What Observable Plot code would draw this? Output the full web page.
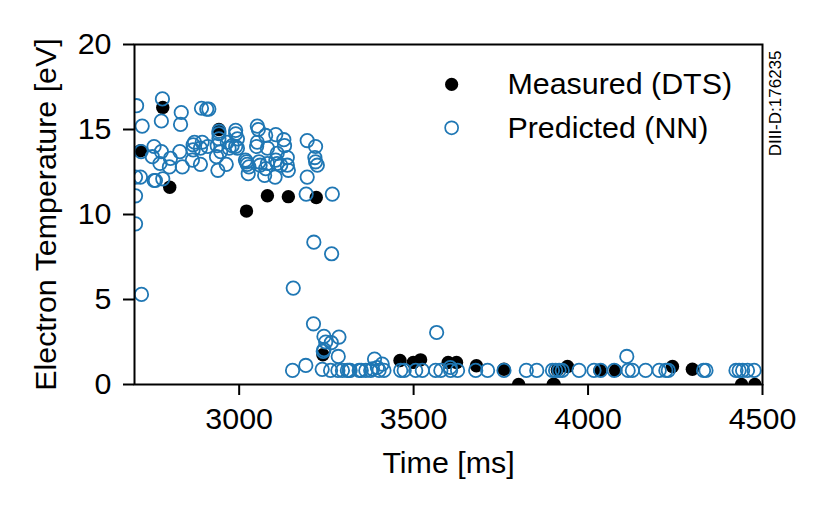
<!DOCTYPE html>
<html>
<head>
<meta charset="utf-8">
<script src="https://cdn.jsdelivr.net/npm/d3@7"></script>
<script src="https://cdn.jsdelivr.net/npm/@observablehq/plot@0.6"></script>
<style>
  html, body { margin: 0; padding: 0; background: #fff; }
  svg { display: block; }
</style>
</head>
<body>
<div id="chart"></div>
<script>
// Measured (DTS)
const measuredTime = [2781, 2942, 2717, 2801, 3021, 3081, 3141, 3221, 3240, 3461, 3499, 3520, 3599, 3623, 3680, 3759, 3801, 3900, 3912, 3941, 3903, 4034, 4079, 4242, 4299, 4440, 4478];
const measuredTemp = [16.3, 15.0, 13.75, 11.6, 10.2, 11.1, 11.05, 11.0, 1.75, 1.41, 1.3, 1.45, 1.3, 1.3, 1.1, 0.9, 0, 0, 0.85, 1.06, 0, 0.83, 0.83, 1.06, 0.9, 0, 0];

// Predicted (NN)
const predictedTime = [
  2706, 2722, 2780, 2777, 2834, 2832, 2892, 2907, 2913, 2719, 2756, 2751, 2777, 2773, 2803, 2800, 2830, 2837, 2717, 2703, 2756, 2760, 2781, 2703, 2703,
  2872, 2868, 2868, 2894, 2889, 2866, 2889, 2910, 2942, 2942, 2942, 2937, 2947, 2935, 2963, 2939, 2990, 2990, 2995, 2966, 2980, 2990, 2995, 2971,
  3018, 3021, 3023, 3028, 3026, 3052, 3055, 3076, 3105, 3128, 3130, 3052, 3050, 3081, 3109, 3138, 3057, 3060, 3081, 3076, 3073, 3103, 3105, 3109, 3119, 3138, 3141,
  3195, 3219, 3217, 3219, 3224, 3195, 3192, 3267,
  2720, 3214, 3265, 3155, 3213, 3243, 3286, 3248, 3264, 3243, 3241, 3284, 3191, 3153, 3238, 3262, 3283, 3310, 3318, 3344,
  3296, 3315, 3350, 3363, 3377, 3401, 3415, 3463, 3473, 3506, 3525, 3563, 3578, 3606, 3626, 3678, 3712, 3759, 3823, 3853, 3898, 3917,
  3566, 3388, 3410, 3605, 3396, 3382,
  3907, 3926, 3974, 4017, 4036, 4075, 4115, 4127, 4165, 4204, 4223, 4230, 4331, 4338, 4424, 4433, 4443, 4457, 4476, 4111
];
const predictedTemp = [
  16.4, 15.2, 16.8, 15.5, 16.0, 15.3, 16.25, 16.2, 16.2, 13.7, 14.0, 13.4, 13.7, 13.0, 13.3, 12.8, 13.7, 12.8, 12.2, 12.2, 12.0, 12.0, 12.1, 11.1, 9.45,
  14.25, 14.1, 13.8, 14.25, 13.9, 13.2, 12.95, 14.0, 14.75, 14.9, 14.45, 14.05, 13.7, 13.4, 12.95, 12.6, 14.95, 14.75, 14.45, 14.25, 14.05, 14.0, 13.9, 13.9,
  13.2, 13.1, 12.95, 12.8, 12.4, 15.2, 15.0, 14.65, 14.7, 14.4, 14.05, 14.25, 14.0, 13.9, 13.6, 13.35, 13.1, 12.9, 13.0, 12.7, 12.3, 12.2, 13.2, 13.0, 12.9, 12.9, 12.6,
  14.35, 14.0, 13.35, 13.1, 12.9, 12.2, 11.2, 11.2,
  5.3, 8.37, 7.69, 5.67, 3.57, 2.83, 2.79, 2.5, 2.46, 2.05, 1.95, 1.65, 1.12, 0.83, 0.89, 0.83, 0.83, 0.83, 0.83, 0.83,
  0.83, 0.83, 0.83, 0.83, 0.83, 0.83, 0.83, 0.83, 0.83, 0.83, 0.83, 0.83, 0.83, 0.83, 0.83, 0.83, 0.83, 0.83, 0.83, 0.83, 0.83, 0.83,
  3.06, 1.5, 1.2, 1.0, 1.0, 0.92,
  0.83, 0.83, 0.83, 0.83, 0.83, 0.83, 0.83, 0.83, 0.83, 0.83, 0.83, 0.83, 0.83, 0.83, 0.83, 0.83, 0.83, 0.83, 0.83, 1.65
];

const xTicks = [3000, 3500, 4000, 4500];
const yTicks = [0, 5, 10, 15, 20];

// legend rows, placed in data units
const legendLabels = ["Measured (DTS)", "Predicted (NN)"];
const legendY = [17.65, 15.1];
const legendDotX = 3609;
const legendTextX = 3769;

const blue = "#1f77b4";
const font = "'Liberation Sans', Arial, Helvetica, sans-serif";

const measured = measuredTime.map((t, i) => ({ t, temp: measuredTemp[i] }));
const predicted = predictedTime.map((t, i) => ({ t, temp: predictedTemp[i] }));

const plot = Plot.plot({
  width: 829,
  height: 514,
  marginLeft: 134,
  marginRight: 67,
  marginTop: 44,
  marginBottom: 130,
  style: { fontFamily: font, fontSize: "30.4px", color: "#000", background: "#fff" },
  x: { domain: [2700, 4500] },
  y: { domain: [0, 20] },
  marks: [
    Plot.dot(measured, { x: "t", y: "temp", r: 6.7, fill: "#000", stroke: "none", clip: true }),
    Plot.dot(predicted, { x: "t", y: "temp", r: 6.7, fill: "none", stroke: blue, strokeWidth: 1.8, clip: true }),
    Plot.frame({ stroke: "#000", strokeWidth: 2 }),
    Plot.axisX({
      ticks: xTicks,
      tickFormat: (d) => String(d),
      tickSize: 11,
      tickPadding: 12,
      strokeWidth: 2,
      label: "Time [ms]",
      labelAnchor: "center",
      labelArrow: "none",
      labelOffset: 88
    }),
    Plot.axisY({
      ticks: yTicks,
      tickSize: 11,
      tickPadding: 12,
      strokeWidth: 2,
      label: "Electron Temperature [eV]",
      labelAnchor: "center",
      labelArrow: "none",
      labelOffset: 100
    }),
    // legend
    Plot.dot([legendDotX], { x: (d) => d, y: [legendY[0]], r: 6.6, fill: "#000", stroke: "none" }),
    Plot.dot([legendDotX], { x: (d) => d, y: [legendY[1]], r: 6.5, fill: "none", stroke: blue, strokeWidth: 1.7 }),
    Plot.text(legendLabels, {
      x: () => legendTextX,
      y: legendY,
      text: (d) => d,
      textAnchor: "start",
      fontSize: 30.4
    }),
    // shot number stamp
    Plot.text(["DIII-D:176235"], {
      frameAnchor: "top-right",
      rotate: -90,
      textAnchor: "end",
      dx: 6,
      dy: 6,
      fontSize: 17
    })
  ]
});

document.getElementById("chart").append(plot);
</script>
</body>
</html>
